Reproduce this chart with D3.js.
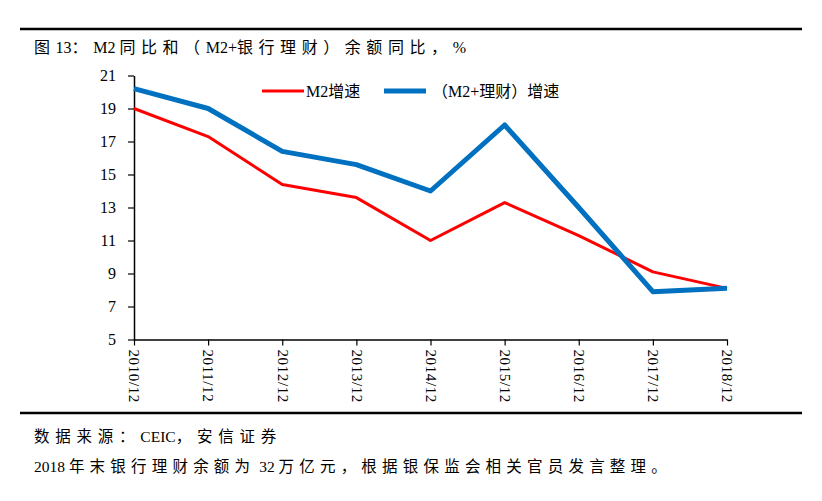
<!DOCTYPE html>
<html><head><meta charset="utf-8">
<script src="https://cdn.jsdelivr.net/npm/d3@7"></script>
<style>body{margin:0;background:#fff}</style>
</head><body>
<svg id="c" width="822" height="501"></svg>
<script>
const categories = ["2010/12","2011/12","2012/12","2013/12","2014/12","2015/12","2016/12","2017/12","2018/12"];
const m2 = [19.0,17.3,14.4,13.6,11.0,13.3,11.3,9.1,8.1];
const m2wm = [20.2,19.0,16.4,15.6,14.0,18.0,13.0,7.9,8.1];
const yTicks = [5,7,9,11,13,15,17,19,21];
const seriesNames = ["M2增速","（M2+理财）增速"];
const title = "图13：M2 同比和（M2+银行理财）余额同比，%";
const source = "数据来源：CEIC，安信证券";
const note = "2018 年末银行理财余额为 32 万亿元，根据银保监会相关官员发言整理。";

const font = "'Liberation Serif','Times New Roman','Noto Sans CJK SC',serif";
const svg = d3.select("#c");
svg.append("rect").attr("width",822).attr("height",501).attr("fill","#fff");

// text with spaced CJK runs
function mixedText(x0, y0, str, size, target){
  const t = svg.append("text").attr("x",x0).attr("y",y0).attr("font-family",font).attr("font-size",size);
  const re = /([\u3000-\u9fff\uff00-\uffef]+)|([^\u3000-\u9fff\uff00-\uffef]+)/g;
  let m, nCJK = 0;
  const spans = [];
  while((m = re.exec(str))){
    const isC = !!m[1];
    const sp = t.append("tspan").text(m[0].replace(/ /g,"\u00a0"));
    if(isC){ nCJK += m[0].length; spans.push(sp); }
  }
  const w0 = t.node().getComputedTextLength();
  const s = Math.max(0,(target - w0)/nCJK);
  spans.forEach(sp=>sp.attr("letter-spacing",s));
  return t;
}

svg.append("line").attr("x1",20).attr("x2",802).attr("y1",29).attr("y2",29).attr("stroke","#000").attr("stroke-width",2.5);
svg.append("line").attr("x1",20).attr("x2",802).attr("y1",413).attr("y2",413).attr("stroke","#000").attr("stroke-width",2.5);
mixedText(34,53,title,16,432);
mixedText(34,442,source,15.5,248);
mixedText(34,472,note,15.5,638);

const x = d3.scalePoint().domain(categories).range([134,727]);
const y = d3.scaleLinear().domain([5,21]).range([339.5,75.5]);

const gy = svg.append("g").attr("transform","translate(134,0)")
  .call(d3.axisLeft(y).tickValues(yTicks).tickSize(6).tickSizeOuter(0).tickPadding(12));
gy.select(".domain").attr("stroke","#000").attr("stroke-width",1.5);
gy.selectAll(".tick line").attr("stroke","#000").attr("stroke-width",1.2);
gy.selectAll("text").attr("font-family",font).attr("font-size",16).attr("fill","#000");

const gx = svg.append("g").attr("transform","translate(0,339.5)")
  .call(d3.axisBottom(x).tickSize(6).tickSizeOuter(0));
gx.select(".domain").attr("stroke","#000").attr("stroke-width",1.5);
gx.selectAll(".tick line").attr("stroke","#000").attr("stroke-width",1.2);
gx.selectAll("text").attr("font-family",font).attr("font-size",15).attr("fill","#000")
  .attr("transform","rotate(90)").attr("text-anchor","start").attr("dy","0.35em").attr("x",10).attr("y",0)
  .attr("letter-spacing",0.6);

const line = d3.line().x((d,i)=>x(categories[i])).y(d=>y(d));
svg.append("path").datum(m2).attr("d",line).attr("fill","none").attr("stroke","#ff0000").attr("stroke-width",3).attr("stroke-linejoin","round");
svg.append("path").datum(m2wm).attr("d",line).attr("fill","none").attr("stroke","#0070c0").attr("stroke-width",5).attr("stroke-linejoin","round");

// legend
const lg = svg.append("g");
lg.append("line").attr("x1",262).attr("x2",304).attr("y1",91).attr("y2",91).attr("stroke","#ff0000").attr("stroke-width",3);
lg.append("text").attr("x",306).attr("y",97).attr("font-family",font).attr("font-size",16).text(seriesNames[0]);
lg.append("line").attr("x1",384).attr("x2",426).attr("y1",91).attr("y2",91).attr("stroke","#0070c0").attr("stroke-width",5);
lg.append("text").attr("x",432).attr("y",97).attr("font-family",font).attr("font-size",16).text(seriesNames[1]);
</script>
</body></html>
